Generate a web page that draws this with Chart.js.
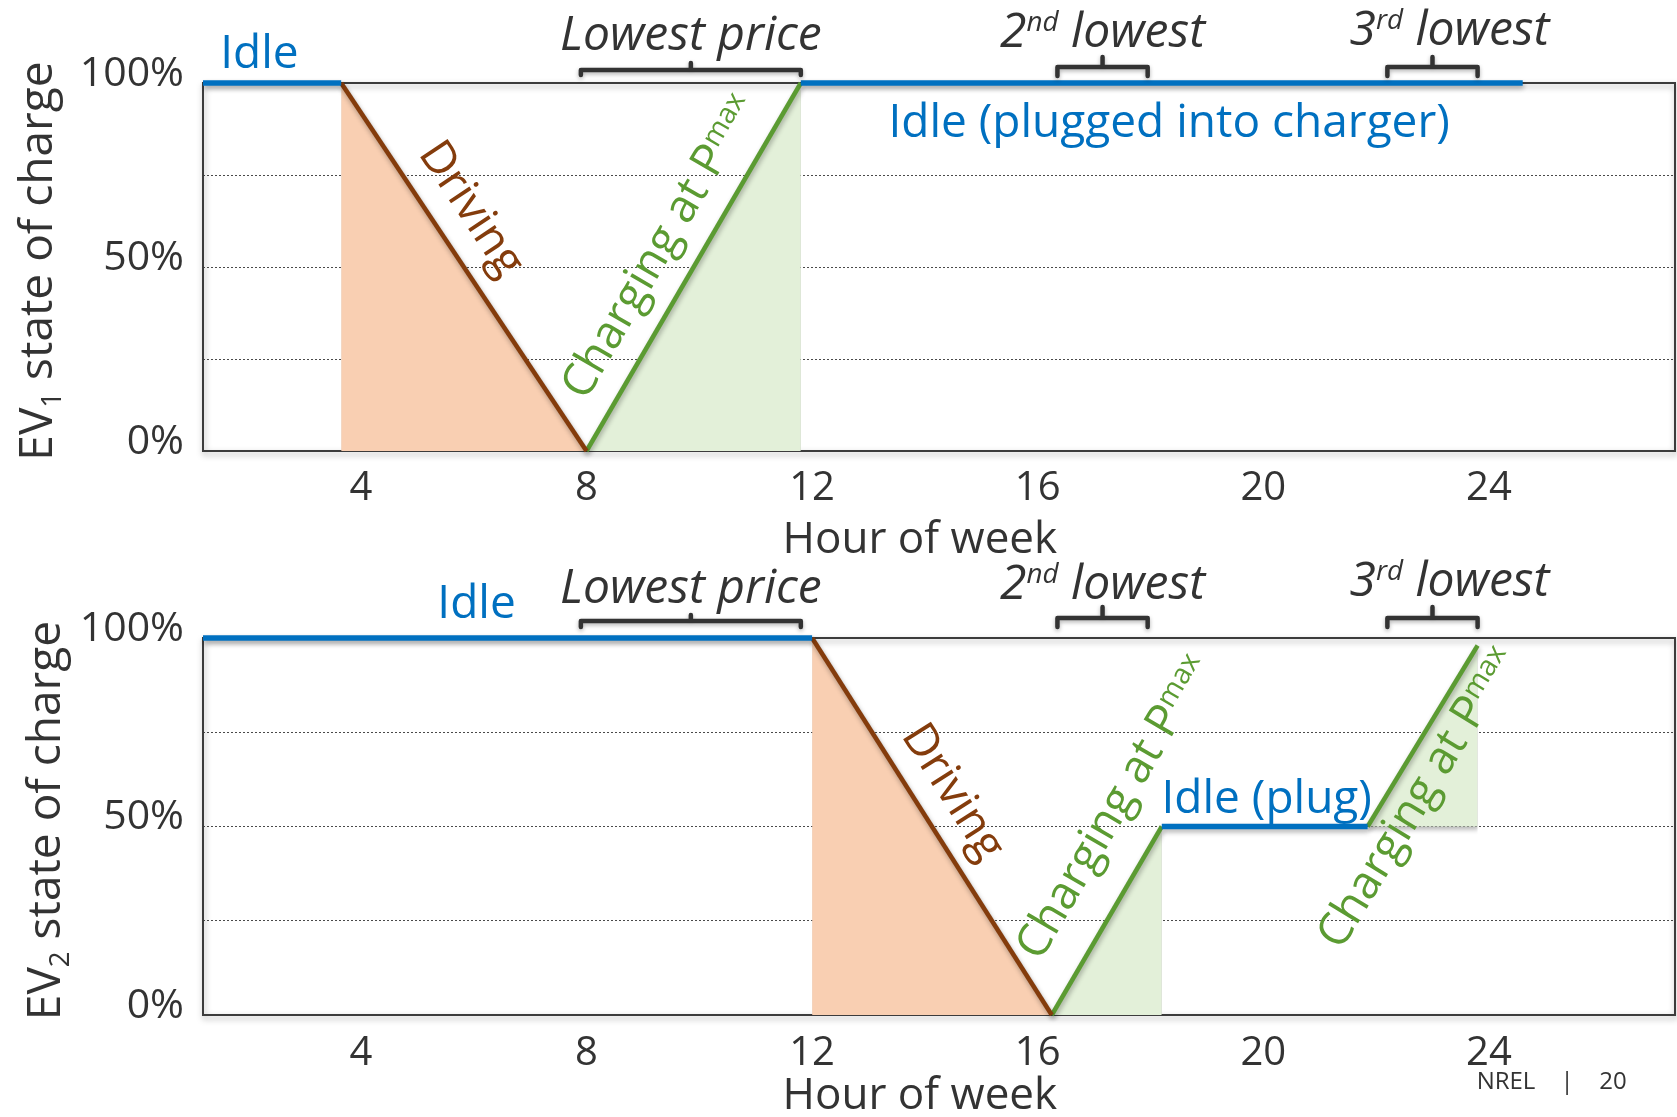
<!DOCTYPE html>
<html>
<head>
<meta charset="utf-8">
<title>EV state of charge by hour of week</title>
<script src="https://cdn.jsdelivr.net/npm/chart.js@4.4.1/dist/chart.umd.min.js"></script>
<style>
  html, body { margin: 0; padding: 0; background: #fff; }
  #wrap { position: relative; width: 1677px; height: 1117px; overflow: hidden; }
  #c1 { position: absolute; left: 0; top: 0; }
  #c2 { position: absolute; left: 0; top: 558px; }
  #foot { position: absolute; left: 0; top: 1063px; width: 1677px; height: 34px;
          font: 24px "Open Sans", sans-serif; color: #333; }
  #foot span { position: absolute; top: 0; transform: translateX(-50%); }
</style>
</head>
<body>
<div id="wrap">
  <canvas id="c1" width="1677" height="558"></canvas>
  <canvas id="c2" width="1677" height="559"></canvas>
  <div id="foot"><span style="left:1506px">NREL</span><span style="left:1567px">|</span><span style="left:1613px">20</span></div>
</div>
<script>
// ---- axes ----
const hourTicks = [4, 8, 12, 16, 20, 24];
const socTicks = [0, 25, 50, 75, 100];
const socTickLabels = ['0%', '', '50%', '', '100%'];

// ---- EV1 trajectory: hour of week vs state of charge (%) ----
const ev1IdleHours = [1.2, 3.65];       const ev1IdleSoc = [100, 100];
const ev1DriveHours = [3.65, 8];        const ev1DriveSoc = [100, 0];
const ev1ChargeHours = [8, 11.8];       const ev1ChargeSoc = [0, 100];
const ev1PluggedHours = [11.8, 24.6];   const ev1PluggedSoc = [100, 100];

// ---- EV2 trajectory ----
const ev2IdleHours = [1.2, 12];         const ev2IdleSoc = [100, 100];
const ev2DriveHours = [12, 16.25];      const ev2DriveSoc = [100, 0];
const ev2Charge1Hours = [16.25, 18.2];  const ev2Charge1Soc = [0, 50];
const ev2PluggedHours = [18.2, 21.85];  const ev2PluggedSoc = [50, 50];
const ev2Charge2Hours = [21.85, 23.8];  const ev2Charge2Soc = [50, 98];

// ---- cheapest charging windows (hours) ----
const priceWindowStart = [7.9, 16.35, 22.2];
const priceWindowEnd = [11.8, 17.95, 23.8];

// ---- styling ----
const BLUE = '#0070C0', BROWN = '#843C0C', GREEN = '#5B9B32';
const PEACH = '#F9CFB2', MINT = '#E3F0D9', INK = '#333333';
const FONT = '"Open Sans", "Noto Sans", sans-serif';

const pts = (hours, soc) => hours.map((h, i) => ({ x: h, y: soc[i] }));
function seg(hours, soc, color, width, fill, fillColor) {
  return {
    data: pts(hours, soc), borderColor: color, borderWidth: width,
    backgroundColor: fillColor || 'rgba(0,0,0,0)', fill: fill === undefined ? false : fill,
    pointRadius: 0, pointHoverRadius: 0, tension: 0, clip: false,
    borderCapStyle: 'butt', borderJoinStyle: 'miter'
  };
}
const fontStr = (size, italic) => (italic ? 'italic ' : '') + size + 'px ' + FONT;

// Draws a run of text pieces (for super/subscripts) around (x, y), optionally rotated.
function drawRich(ctx, parts, size, color, x, y, opts) {
  const o = opts || {};
  ctx.save();
  ctx.translate(x, y);
  ctx.rotate(o.angle || 0);
  ctx.fillStyle = color;
  ctx.textBaseline = 'alphabetic';
  ctx.textAlign = 'left';
  let total = 0;
  const widths = parts.map(p => {
    ctx.font = fontStr(size * (p.s || 1), o.italic);
    const w = ctx.measureText(p.t).width;
    total += w;
    return w;
  });
  let cx = o.align === 'left' ? 0 : (o.align === 'right' ? -total : -total / 2);
  const by = (o.baseline || 0) * size;
  parts.forEach((p, i) => {
    ctx.font = fontStr(size * (p.s || 1), o.italic);
    ctx.fillText(p.t, cx, by + (p.dy || 0) * size);
    cx += widths[i];
  });
  ctx.restore();
}

const chargingText = [{ t: 'Charging at P' }, { t: 'max', s: 0.62, dy: -0.3 }];
const priceTexts = [
  [{ t: 'Lowest price' }],
  [{ t: '2' }, { t: 'nd', s: 0.58, dy: -0.33 }, { t: ' lowest' }],
  [{ t: '3' }, { t: 'rd', s: 0.58, dy: -0.33 }, { t: ' lowest' }]
];

function notesPlugin(spec) {
  return {
    id: 'evNotes',
    beforeDatasetsDraw(chart) {
      const { ctx, chartArea: a } = chart;
      // plot frame with a soft drop shadow
      ctx.save();
      ctx.shadowColor = 'rgba(0,0,0,0.35)';
      ctx.shadowBlur = 6; ctx.shadowOffsetX = 1; ctx.shadowOffsetY = 3;
      ctx.strokeStyle = '#3c3c3c'; ctx.lineWidth = 2;
      ctx.strokeRect(a.left, a.top, a.right - a.left, a.bottom - a.top);
      ctx.restore();
      // shadow for the trajectory lines and fills
      ctx.save();
      ctx.shadowColor = 'rgba(0,0,0,0.3)';
      ctx.shadowBlur = 5; ctx.shadowOffsetX = 1; ctx.shadowOffsetY = 3;
    },
    afterDatasetsDraw(chart) {
      const { ctx, chartArea: a, scales } = chart;
      ctx.restore();
      const xs = scales.x, ys = scales.y;

      // price-window braces above the plot
      ctx.save();
      ctx.shadowColor = 'rgba(0,0,0,0.3)';
      ctx.shadowBlur = 4; ctx.shadowOffsetY = 2;
      ctx.strokeStyle = '#333'; ctx.lineWidth = 4.5;
      ctx.lineJoin = 'round'; ctx.lineCap = 'round';
      priceWindowStart.forEach((h0, i) => {
        const b = spec.braces[i];
        const x1 = xs.getPixelForValue(h0), x2 = xs.getPixelForValue(priceWindowEnd[i]);
        const xm = (x1 + x2) / 2, yh = a.top + b.dy;
        ctx.beginPath();
        ctx.moveTo(x1, yh + b.arm); ctx.lineTo(x1, yh); ctx.lineTo(x2, yh); ctx.lineTo(x2, yh + b.arm);
        ctx.moveTo(xm, yh); ctx.lineTo(xm, yh - b.tick);
        ctx.stroke();
      });
      ctx.restore();

      // price-window captions
      priceTexts.forEach((parts, i) => {
        const c = spec.priceCaptions[i];
        const h = (priceWindowStart[i] + priceWindowEnd[i]) / 2 + c.shift;
        drawRich(ctx, parts, 48, INK, xs.getPixelForValue(h), a.top + c.dy, { italic: true });
      });

      // straight state labels
      spec.flatLabels.forEach(l => {
        const y = l.dy !== undefined ? a.top + l.dy : ys.getPixelForValue(l.soc);
        drawRich(ctx, [{ t: l.text }], 46, l.color, xs.getPixelForValue(l.hour), y, {});
      });

      // labels running along driving / charging slopes
      spec.slopeLabels.forEach(l => {
        const p0x = xs.getPixelForValue(l.segHours[0]), p0y = ys.getPixelForValue(l.segSoc[0]);
        const p1x = xs.getPixelForValue(l.segHours[1]), p1y = ys.getPixelForValue(l.segSoc[1]);
        const ang = Math.atan2(p1y - p0y, p1x - p0x);
        drawRich(ctx, l.parts, 46, l.color, xs.getPixelForValue(l.hour), ys.getPixelForValue(l.soc),
          { angle: ang, baseline: 0.26 });
      });

      // y-axis title with subscript
      drawRich(ctx, [{ t: 'EV' }, { t: spec.evIndex, s: 0.6, dy: 0.2 }, { t: ' state of charge' }],
        46, INK, spec.yTitleX, (a.top + a.bottom) / 2 - 6, { angle: -Math.PI / 2, baseline: 0 });

      // x-axis title
      drawRich(ctx, [{ t: 'Hour of week' }], 44, INK,
        a.left + 0.487 * (a.right - a.left), a.bottom + spec.xTitleBaseline, {});
    }
  };
}

function buildChart(canvasId, spec) {
  return new Chart(document.getElementById(canvasId), {
    type: 'line',
    data: { datasets: spec.datasets },
    options: {
      responsive: false, animation: false, events: [],
      layout: { padding: { top: spec.plotTop, right: 2, left: 0, bottom: 0 } },
      plugins: { legend: { display: false }, tooltip: { enabled: false } },
      scales: {
        x: {
          type: 'linear', min: 1.2, max: 27.3,
          afterBuildTicks: s => { s.ticks = hourTicks.map(v => ({ value: v })); },
          afterFit: s => { s.height = spec.xAxisHeight; },
          grid: { display: false, drawTicks: false },
          border: { display: false },
          ticks: { color: INK, font: { family: FONT, size: 40 }, padding: spec.xTickPad,
                   maxRotation: 0, autoSkip: false, callback: v => String(v) }
        },
        y: {
          type: 'linear', min: 0, max: 100,
          afterBuildTicks: s => { s.ticks = socTicks.map(v => ({ value: v })); },
          afterFit: s => { s.width = 203; },
          grid: {
            drawTicks: false, lineWidth: 1,
            color: c => (c.tick && (c.tick.value === 0 || c.tick.value === 100)) ? 'rgba(0,0,0,0)' : '#4a4a4a'
          },
          border: { display: false, dash: [2, 2] },
          ticks: { color: INK, font: { family: FONT, size: 41 }, padding: 19, labelOffset: -9,
                   callback: v => socTickLabels[socTicks.indexOf(v)] }
        }
      }
    },
    plugins: [notesPlugin(spec)]
  });
}

// EV1 panel
buildChart('c1', {
  plotTop: 83, xAxisHeight: 107, xTickPad: 14, evIndex: '1', yTitleX: 52, xTitleBaseline: 102,
  datasets: [
    seg(ev1IdleHours, ev1IdleSoc, BLUE, 5.5),
    seg(ev1PluggedHours, ev1PluggedSoc, BLUE, 5.5),
    seg(ev1DriveHours, ev1DriveSoc, BROWN, 4.5, 'origin', PEACH),
    seg(ev1ChargeHours, ev1ChargeSoc, GREEN, 4.5, 'origin', MINT)
  ],
  braces: [{ dy: -13, arm: 5, tick: 7 }, { dy: -16, arm: 9, tick: 10 }, { dy: -16, arm: 9, tick: 10 }],
  priceCaptions: [{ dy: -33, shift: 0 }, { dy: -36, shift: 0 }, { dy: -38, shift: 0.3 }],
  flatLabels: [
    { text: 'Idle', hour: 2.2, dy: -15, color: BLUE },
    { text: 'Idle (plugged into charger)', hour: 18.33, soc: 85.3, color: BLUE }
  ],
  slopeLabels: [
    { parts: [{ t: 'Driving' }], hour: 5.93, soc: 65.5, segHours: ev1DriveHours, segSoc: ev1DriveSoc, color: BROWN },
    { parts: chargingText, hour: 9.33, soc: 55.2, segHours: ev1ChargeHours, segSoc: ev1ChargeSoc, color: GREEN }
  ]
});

// EV2 panel
buildChart('c2', {
  plotTop: 80, xAxisHeight: 102, xTickPad: 15, evIndex: '2', yTitleX: 60, xTitleBaseline: 94,
  datasets: [
    seg(ev2IdleHours, ev2IdleSoc, BLUE, 5.5),
    seg(ev2PluggedHours, ev2PluggedSoc, BLUE, 5.5),
    seg(ev2DriveHours, ev2DriveSoc, BROWN, 4.5, 'origin', PEACH),
    seg(ev2Charge1Hours, ev2Charge1Soc, GREEN, 4.5, 'origin', MINT),
    seg(ev2Charge2Hours, ev2Charge2Soc, GREEN, 4.5, { value: 50 }, MINT)
  ],
  braces: [{ dy: -17, arm: 6, tick: 6 }, { dy: -20, arm: 9, tick: 11 }, { dy: -20, arm: 9, tick: 11 }],
  priceCaptions: [{ dy: -35, shift: 0 }, { dy: -39, shift: 0 }, { dy: -42, shift: 0.3 }],
  flatLabels: [
    { text: 'Idle', hour: 6.05, dy: -20, color: BLUE },
    { text: 'Idle (plug)', hour: 20.06, soc: 53.6, color: BLUE }
  ],
  slopeLabels: [
    { parts: [{ t: 'Driving' }], hour: 14.47, soc: 58.9, segHours: ev2DriveHours, segSoc: ev2DriveSoc, color: BROWN },
    { parts: chargingText, hour: 17.39, soc: 54.8, segHours: ev2Charge1Hours, segSoc: ev2Charge1Soc, color: GREEN },
    { parts: chargingText, hour: 22.77, soc: 57.3, segHours: ev2Charge2Hours, segSoc: ev2Charge2Soc, color: GREEN }
  ]
});
</script>
</body>
</html>
